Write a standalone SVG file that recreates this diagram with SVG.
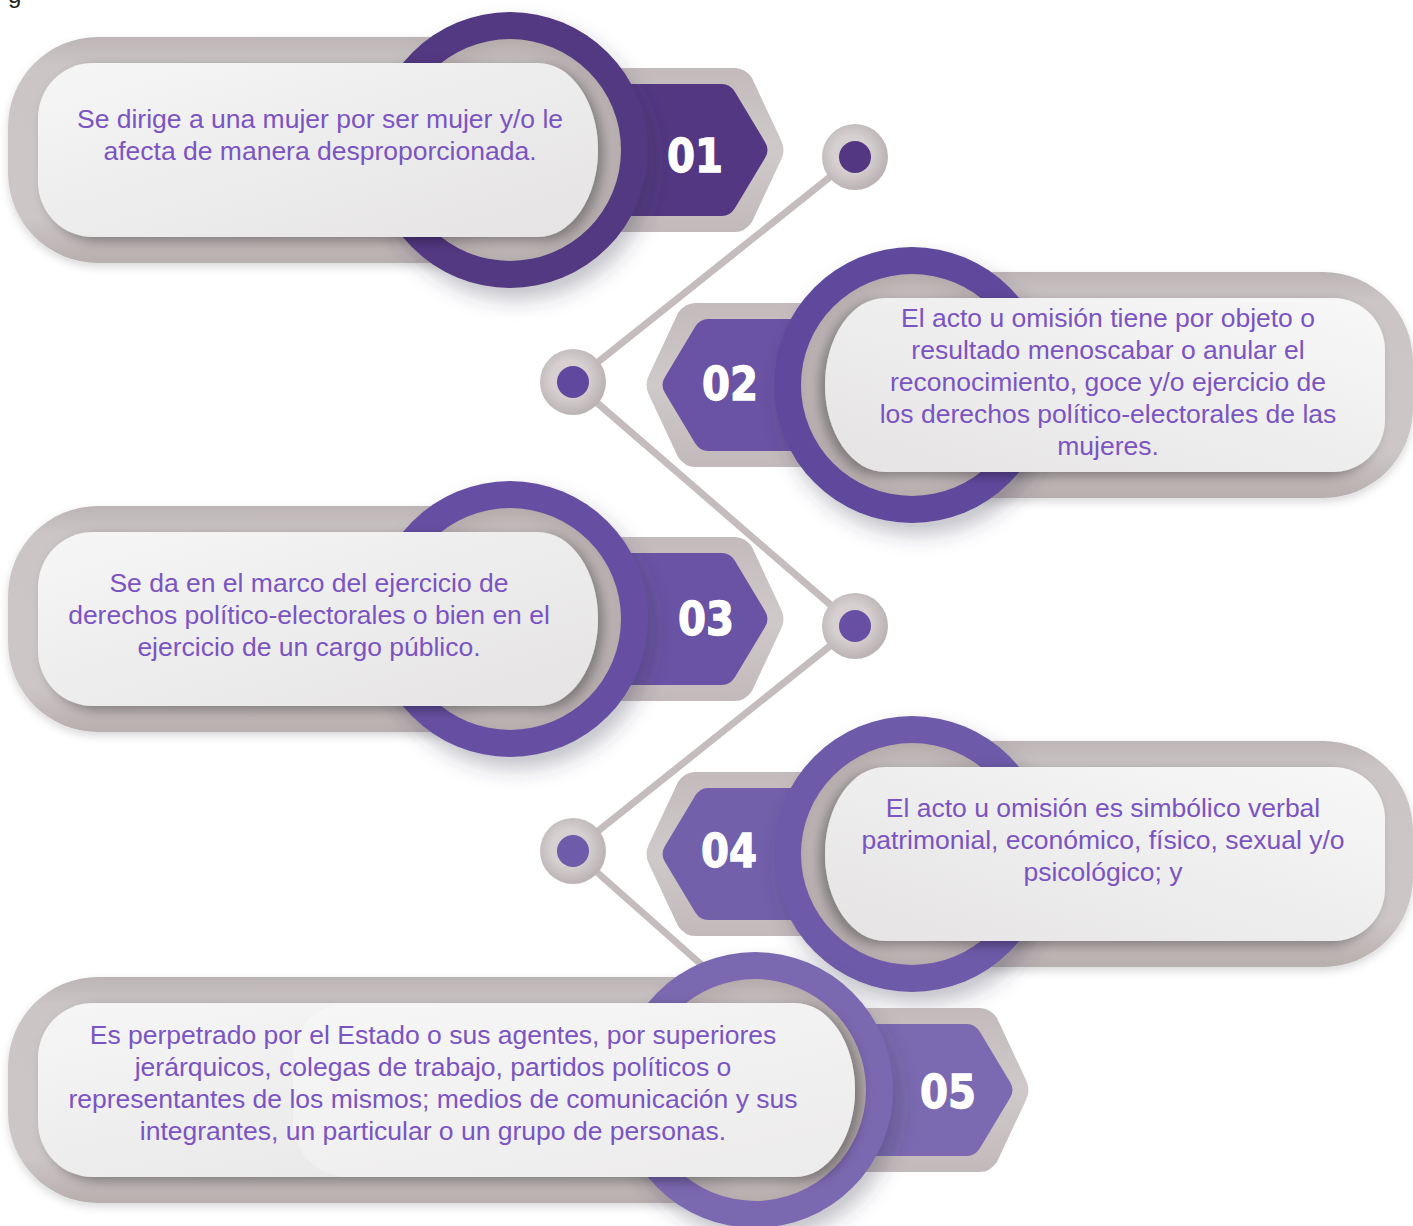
<svg xmlns="http://www.w3.org/2000/svg" width="1413" height="1226" viewBox="0 0 1413 1226">
<defs>
<style>
.txt{font-family:"Liberation Sans",Arial,sans-serif;font-size:26.5px;fill:#7b54c3;text-anchor:middle}
.num{font-family:"DejaVu Sans",sans-serif;font-weight:bold;font-size:46px;fill:#ffffff;stroke:#ffffff;stroke-width:1.3;text-anchor:middle}
.line{stroke:#c5bdbd;stroke-width:7;fill:none;stroke-linecap:round}
.ring{fill:url(#dotGrad)}
.outer{fill:url(#outerGrad)}
.hexg{fill:url(#hexGrad)}
.inner{fill:url(#innerGrad)}
</style>
<linearGradient id="outerGrad" x1="0" y1="0" x2="0" y2="1">
<stop offset="0" stop-color="#bdb5b5"/>
<stop offset="0.12" stop-color="#cbc5c5"/>
<stop offset="0.8" stop-color="#cdc6c6"/>
<stop offset="1" stop-color="#b7aeae"/>
</linearGradient>
<linearGradient id="hexGrad" x1="0" y1="0" x2="0" y2="1">
<stop offset="0" stop-color="#c3bbbb"/>
<stop offset="0.5" stop-color="#cfc9c9"/>
<stop offset="1" stop-color="#c2baba"/>
</linearGradient>
<linearGradient id="pillL" x1="0" y1="0" x2="1" y2="1">
<stop offset="0" stop-color="#f6f6f7"/>
<stop offset="1" stop-color="#e5e3e3"/>
</linearGradient>
<linearGradient id="pillR" x1="1" y1="0" x2="0" y2="1">
<stop offset="0" stop-color="#f8f8f8"/>
<stop offset="1" stop-color="#e5e3e3"/>
</linearGradient>
<radialGradient id="innerGrad" cx="0.5" cy="0.5" r="0.5">
<stop offset="0.7" stop-color="#cdc7c7"/>
<stop offset="1" stop-color="#b5acac"/>
</radialGradient>
<radialGradient id="dotGrad" cx="0.45" cy="0.45" r="0.55">
<stop offset="0.5" stop-color="#d6d0d0"/>
<stop offset="1" stop-color="#bbb3b3"/>
</radialGradient>
<filter id="circShadow" x="-30%" y="-30%" width="160%" height="170%">
<feDropShadow dx="6" dy="12" stdDeviation="10" flood-color="#3a3550" flood-opacity="0.3"/>
</filter>
<filter id="shR" x="-20%" y="-30%" width="140%" height="160%">
<feDropShadow dx="6" dy="4" stdDeviation="6" flood-color="#000" flood-opacity="0.35"/>
</filter>
<filter id="shL" x="-20%" y="-30%" width="140%" height="160%">
<feDropShadow dx="-6" dy="4" stdDeviation="6" flood-color="#000" flood-opacity="0.35"/>
</filter>
<filter id="soft" x="-10%" y="-20%" width="120%" height="150%">
<feDropShadow dx="0" dy="4" stdDeviation="4" flood-color="#000" flood-opacity="0.15"/>
</filter>
<path id="hexOut" d="M50,-82 L225,-82 Q235,-82 242,-72 L271,-10 Q276,0 271,10 L242,72 Q235,82 225,82 L50,82 Z"/>
<path id="hexIn" d="M50,-66 L212,-66 Q220,-66 225,-58 L255,-8 Q260,0 255,8 L225,58 Q220,66 212,66 L50,66 Z"/>
</defs>
<rect width="1413" height="1226" fill="#ffffff"/>
<text x="8" y="3" style="font-family:'Liberation Sans',Arial,sans-serif;font-size:24px;fill:#222">g</text>

<g id="connectors">
<line class="line" x1="855" y1="157" x2="573" y2="382"/>
<line class="line" x1="573" y1="382" x2="855" y2="626"/>
<line class="line" x1="855" y1="626" x2="573" y2="851"/>
<line class="line" x1="573" y1="851" x2="730" y2="990"/>
</g>

<g id="dot1"><circle class="ring" cx="855" cy="157" r="33"/><circle cx="855" cy="157" r="16" fill="#533782"/></g>
<g id="dot2"><circle class="ring" cx="573" cy="382" r="33"/><circle cx="573" cy="382" r="16" fill="#5f499e"/></g>
<g id="dot3"><circle class="ring" cx="855" cy="626" r="33"/><circle cx="855" cy="626" r="16" fill="#6750a3"/></g>
<g id="dot4"><circle class="ring" cx="573" cy="851" r="33"/><circle cx="573" cy="851" r="16" fill="#6e5ba9"/></g>

<g id="item01">
<rect class="outer" x="8" y="37" width="600" height="226" rx="90" filter="url(#soft)"/>
<g transform="translate(510,150)"><use href="#hexOut" class="hexg"/><use href="#hexIn" fill="#533782"/></g>
<circle cx="510" cy="150" r="138" fill="#533782" filter="url(#circShadow)"/>
<circle class="inner" cx="510" cy="150" r="111"/>
<path d="M93,63 H538 A60 87 0 0 1 598,150 A60 87 0 0 1 538,237 H93 A55 55 0 0 1 38,182 V118 A55 55 0 0 1 93,63 Z" fill="url(#pillL)" filter="url(#shR)"/>
<text class="txt" x="320" y="128">Se dirige a una mujer por ser mujer y/o le</text>
<text class="txt" x="320" y="160">afecta de manera desproporcionada.</text>
<text class="num" x="695" y="172" textLength="56" lengthAdjust="spacingAndGlyphs">01</text>
</g>

<g id="item02">
<rect class="outer" x="820" y="272" width="593" height="226" rx="90" filter="url(#soft)"/>
<g transform="translate(920,385) scale(-1,1)"><use href="#hexOut" class="hexg"/><use href="#hexIn" fill="#6a53a4"/></g>
<circle cx="912" cy="385" r="138" fill="#5f489d" filter="url(#circShadow)"/>
<circle class="inner" cx="912" cy="385" r="111"/>
<path d="M885,298 H1333 A52 52 0 0 1 1385,350 V420 A52 52 0 0 1 1333,472 H885 A60 87 0 0 1 825,385 A60 87 0 0 1 885,298 Z" fill="url(#pillR)" filter="url(#shL)"/>
<text class="txt" x="1108" y="327">El acto u omisión tiene por objeto o</text>
<text class="txt" x="1108" y="359">resultado menoscabar o anular el</text>
<text class="txt" x="1108" y="391">reconocimiento, goce y/o ejercicio de</text>
<text class="txt" x="1108" y="423">los derechos político-electorales de las</text>
<text class="txt" x="1108" y="455">mujeres.</text>
<text class="num" x="730" y="400" textLength="56" lengthAdjust="spacingAndGlyphs">02</text>
</g>

<g id="item03">
<rect class="outer" x="8" y="506" width="600" height="226" rx="90" filter="url(#soft)"/>
<g transform="translate(510,619)"><use href="#hexOut" class="hexg"/><use href="#hexIn" fill="#6953a4"/></g>
<circle cx="510" cy="619" r="138" fill="#6650a2" filter="url(#circShadow)"/>
<circle class="inner" cx="510" cy="619" r="111"/>
<path d="M93,532 H538 A60 87 0 0 1 598,619 A60 87 0 0 1 538,706 H93 A55 55 0 0 1 38,651 V587 A55 55 0 0 1 93,532 Z" fill="url(#pillL)" filter="url(#shR)"/>
<text class="txt" x="309" y="592">Se da en el marco del ejercicio de</text>
<text class="txt" x="309" y="624">derechos político-electorales o bien en el</text>
<text class="txt" x="309" y="656">ejercicio de un cargo público.</text>
<text class="num" x="706" y="635" textLength="56" lengthAdjust="spacingAndGlyphs">03</text>
</g>

<g id="item04">
<rect class="outer" x="820" y="741" width="593" height="226" rx="90" filter="url(#soft)"/>
<g transform="translate(920,854) scale(-1,1)"><use href="#hexOut" class="hexg"/><use href="#hexIn" fill="#7260ab"/></g>
<circle cx="912" cy="854" r="138" fill="#6d5aa8" filter="url(#circShadow)"/>
<circle class="inner" cx="912" cy="854" r="111"/>
<path d="M885,767 H1333 A52 52 0 0 1 1385,819 V889 A52 52 0 0 1 1333,941 H885 A60 87 0 0 1 825,854 A60 87 0 0 1 885,767 Z" fill="url(#pillR)" filter="url(#shL)"/>
<text class="txt" x="1103" y="817">El acto u omisión es simbólico verbal</text>
<text class="txt" x="1103" y="849">patrimonial, económico, físico, sexual y/o</text>
<text class="txt" x="1103" y="881">psicológico; y</text>
<text class="num" x="729" y="867" textLength="56" lengthAdjust="spacingAndGlyphs">04</text>
</g>

<g id="item05">
<rect class="outer" x="8" y="977" width="800" height="226" rx="90" filter="url(#soft)"/>
<g transform="translate(755,1090)"><use href="#hexOut" class="hexg"/><use href="#hexIn" fill="#7b6ab1"/></g>
<circle cx="755" cy="1090" r="138" fill="#7a68b0" filter="url(#circShadow)"/>
<circle class="inner" cx="755" cy="1090" r="111"/>
<path d="M93,1003 H795 A60 87 0 0 1 855,1090 A60 87 0 0 1 795,1177 H93 A55 55 0 0 1 38,1122 V1058 A55 55 0 0 1 93,1003 Z" fill="url(#pillL)" filter="url(#shR)"/>
<path d="M348,1003 H795 A60 87 0 0 1 855,1090 A60 87 0 0 1 795,1177 H348 A55 55 0 0 1 293,1122 V1058 A55 55 0 0 1 348,1003 Z" fill="#ffffff" fill-opacity="0.3"/>
<text class="txt" x="433" y="1044">Es perpetrado por el Estado o sus agentes, por superiores</text>
<text class="txt" x="433" y="1076">jerárquicos, colegas de trabajo, partidos políticos o</text>
<text class="txt" x="433" y="1108">representantes de los mismos; medios de comunicación y sus</text>
<text class="txt" x="433" y="1140">integrantes, un particular o un grupo de personas.</text>
<text class="num" x="948" y="1108" textLength="56" lengthAdjust="spacingAndGlyphs">05</text>
</g>
</svg>
